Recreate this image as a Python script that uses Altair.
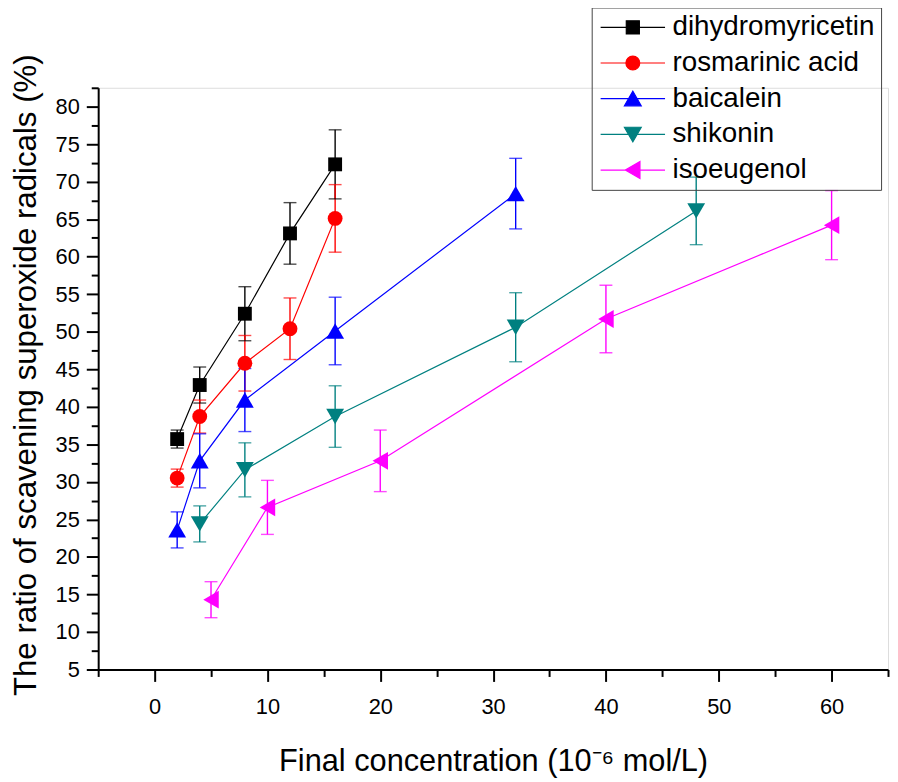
import altair as alt
import pandas as pd

FONT = "Liberation Sans"

names = ["dihydromyricetin", "rosmarinic acid", "baicalein", "shikonin", "isoeugenol"]
colors = ["#000000", "#ff0000", "#0000ff", "#008080", "#ff00ff"]
shapes = ["square", "circle", "triangle-up", "triangle-down", "triangle-left"]
sizes = [196, 225, 324, 324, 324]

conc_dhm = [2, 4, 8, 12, 16]
ratio_dhm = [35.7, 42.9, 52.4, 63.1, 72.3]
err_dhm = [1.2, 2.4, 3.6, 4.1, 4.6]

conc_ros = [2, 4, 8, 12, 16]
ratio_ros = [30.5, 38.7, 45.8, 50.4, 65.1]
err_ros = [1.2, 2.2, 3.7, 4.1, 4.5]

conc_bai = [2, 4, 8, 16, 32]
ratio_bai = [23.6, 32.8, 40.9, 50.1, 68.4]
err_bai = [2.4, 3.6, 4.2, 4.5, 4.7]

conc_shi = [4, 8, 16, 32, 48]
ratio_shi = [24.4, 31.6, 38.7, 50.6, 66.1]
err_shi = [2.4, 3.6, 4.1, 4.6, 4.5]

conc_iso = [5, 10, 20, 40, 60]
ratio_iso = [14.3, 26.6, 32.8, 51.7, 64.2]
err_iso = [2.4, 3.6, 4.1, 4.5, 4.6]

x_major_ticks = [0, 10, 20, 30, 40, 50, 60]
x_minor_ticks = [-5, 5, 15, 25, 35, 45, 55, 65]
y_major_ticks = [5, 10, 15, 20, 25, 30, 35, 40, 45, 50, 55, 60, 65, 70, 75, 80]
y_minor_ticks = [7.5, 12.5, 17.5, 22.5, 27.5, 32.5, 37.5, 42.5, 47.5, 52.5,
                 57.5, 62.5, 67.5, 72.5, 77.5, 82.5]

x_title = "Final concentration (10\u207b\u2076 mol/L)"
y_title = "The ratio of scavening superoxide radicals (%)"

# legend symbols: a line with the marker on it (custom SVG paths)
legend_paths = [
    "M-3.25,0H3.25M-0.66,-0.66H0.66V0.66H-0.66Z",
    "M-3.25,0H3.25M-0.7,0A0.7,0.7,0,1,1,0.7,0A0.7,0.7,0,1,1,-0.7,0Z",
    "M-3.25,0H3.25M-0.85,0.72L0.85,0.72L0,-0.76Z",
    "M-3.25,0H3.25M-0.85,-0.72L0.85,-0.72L0,0.76Z",
    "M-3.25,0H3.25M0.72,-0.85L0.72,0.85L-0.76,0Z",
]

series_data = [
    (conc_dhm, ratio_dhm, err_dhm),
    (conc_ros, ratio_ros, err_ros),
    (conc_bai, ratio_bai, err_bai),
    (conc_shi, ratio_shi, err_shi),
    (conc_iso, ratio_iso, err_iso),
]

rows = []
for name, (xs, ys, es) in zip(names, series_data):
    for xv, yv, ev in zip(xs, ys, es):
        rows.append({"series": name, "x": xv, "y": yv, "lo": yv - ev, "hi": yv + ev})
df = pd.DataFrame(rows)

xscale = alt.Scale(domain=[-5, 65], nice=False, zero=False)
yscale = alt.Scale(domain=[5, 82.5], nice=False, zero=False)
# colour scale for the marks: data-driven (alphabetical) domain, so that it is
# not merged with the legend's explicitly ordered scales
sorted_names = sorted(names)
cscale = alt.Scale(range=[colors[names.index(n)] for n in sorted_names])

axis_common = dict(tickWidth=2, tickColor="black", domainWidth=2, domainColor="black",
                   grid=False, labelFont=FONT, labelFontSize=22, labelColor="black",
                   labelOverlap=False, labelFlush=False, titleFont=FONT,
                   titleFontWeight="normal", titleColor="black")

x_major = alt.Axis(orient="bottom", values=x_major_ticks, tickSize=12, labelPadding=15,
                   title=x_title, titleFontSize=31, titleBaseline="alphabetic", titleY=102,
                   **axis_common)
x_minor = alt.Axis(orient="bottom", values=x_minor_ticks, tickSize=7, tickWidth=2,
                   tickColor="black", labels=False, domain=False, grid=False, title=None)
y_major = alt.Axis(orient="left", values=y_major_ticks, tickSize=12, labelPadding=7,
                   title=y_title, titleFontSize=31.5, titleBaseline="alphabetic",
                   titleX=-63, titleY=289.5, **axis_common)
y_minor = alt.Axis(orient="left", values=y_minor_ticks, tickSize=7, tickWidth=2,
                   tickColor="black", labels=False, domain=False, grid=False, title=None)

def X(field="x", axis=None):
    return alt.X(f"{field}:Q", scale=xscale, axis=axis)

def Y(field="y", axis=None):
    return alt.Y(f"{field}:Q", scale=yscale, axis=axis)

color_nol = alt.Color("series:N", scale=cscale, legend=None)

base = alt.Chart(df)

lines = base.mark_line(strokeWidth=1.2).encode(
    x=X(axis=x_major), y=Y(axis=y_major), color=color_nol, detail="series:N"
)

rules = base.mark_rule(strokeWidth=1.4).encode(
    x=X(axis=x_minor), y=Y("lo", axis=y_minor), y2="hi:Q", color=color_nol
)
caps_lo = base.mark_tick(orient="horizontal", size=13, thickness=1.4).encode(
    x=X(), y=Y("lo"), color=color_nol
)
caps_hi = base.mark_tick(orient="horizontal", size=13, thickness=1.4).encode(
    x=X(), y=Y("hi"), color=color_nol
)

point_layers = []
for name, shp, sz in zip(names, shapes, sizes):
    point_layers.append(
        base.transform_filter(alt.datum.series == name)
        .mark_point(shape=shp, filled=True, size=sz, opacity=1)
        .encode(x=X(), y=Y(), color=color_nol)
    )

leg = alt.Legend(
    title=None, orient="none", legendX=498, legendY=-81,
    symbolSize=400, symbolStrokeWidth=1.2, symbolOffset=21.5, labelOffset=26,
    labelFont=FONT, labelFontSize=28, labelColor="black", labelLimit=400,
    padding=6, strokeColor="#444444", rowPadding=8, symbolOpacity=1,
)
legend_layer = base.transform_filter("false").mark_point(filled=True).encode(
    x=X(), y=Y(),
    fill=alt.Fill("series:N", scale=alt.Scale(domain=names, range=colors), legend=leg),
    stroke=alt.Stroke("series:N", scale=alt.Scale(domain=names, range=colors), legend=leg),
    shape=alt.Shape("series:N", scale=alt.Scale(domain=names, range=legend_paths), legend=leg),
)

chart = alt.layer(lines, rules, caps_lo, caps_hi, *point_layers, legend_layer).resolve_axis(
    x="independent", y="independent"
).properties(
    width=797, height=587,
    autosize=alt.AutoSizeParams(type="none"),
    padding={"left": 91, "top": 77, "right": 2, "bottom": 110},
).configure_view(stroke=None).configure(background="white")

chart.save("out.html", embed_options={"renderer": "svg", "actions": False})
